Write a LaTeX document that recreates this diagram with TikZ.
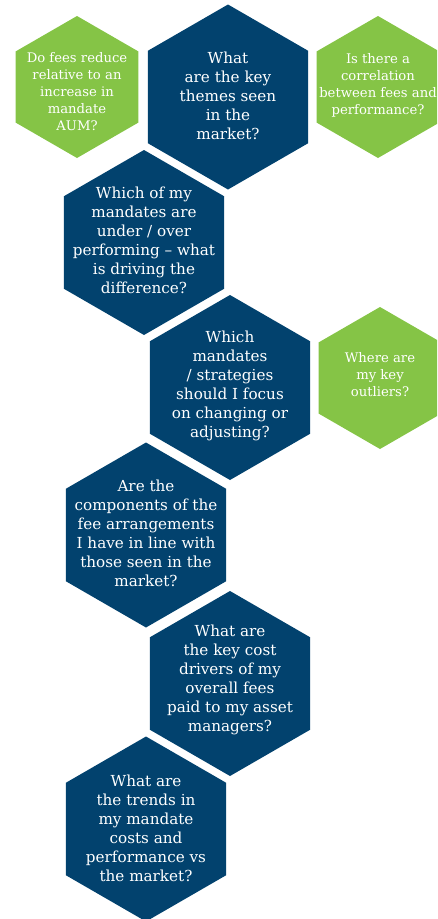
\documentclass[tikz,border=0pt]{standalone}
\usepackage{fontspec}
\setmainfont{DejaVu Serif}
\usetikzlibrary{shapes.geometric}
\definecolor{navy}{HTML}{02426E}
\definecolor{leaf}{HTML}{85C446}
\tikzset{
  hexbase/.style={regular polygon, regular polygon sides=6, shape border rotate=30, inner sep=0pt, outer sep=0pt, draw=none},
  navyhex/.style={hexbase, fill=navy, minimum size=185pt},
  greenhex/.style={hexbase, fill=leaf, minimum size=142pt},
  navytext/.style={text=white, align=center, inner sep=0pt, font=\fontsize{15.2}{19}\selectfont},
  greentext/.style={text=white, align=center, inner sep=0pt, font=\fontsize{13.2}{17}\selectfont}
}
\begin{document}
\begin{tikzpicture}[x=1pt,y=-1pt]
\useasboundingbox (0,0) rectangle (437,919);
\begin{scope}
\clip (0,0) rectangle (437,919);
\node[greenhex] (g1) at (77,87) {};
\node[navyhex] (h1) at (228,97) {};
\node[greenhex] (g2) at (378,87) {};
\node[navyhex] (h2) at (144,242.5) {};
\node[navyhex] (h3) at (230,387.5) {};
\node[greenhex] (g3) at (380,378) {};
\node[navyhex] (h4) at (146,535) {};
\node[navyhex] (h5) at (230,683.5) {};
\node[navyhex] (h6) at (146,829) {};
\end{scope}
\node[greentext] (tg1) at (77,92) {Do fees reduce\\relative to an\\increase in\\mandate\\AUM?};
\node[navytext] (th1) at (228,96) {What\\are the key\\themes seen\\in the\\market?};
\node[greentext] (tg2) at (378,85) {Is there a\\correlation\\between fees and\\performance?};
\node[navytext] (th2) at (144,240.5) {Which of my\\mandates are\\under / over\\performing -- what\\is driving the\\difference?};
\node[navytext] (th3) at (230,385.5) {Which\\mandates\\/ strategies\\should I focus\\on changing or\\adjusting?};
\node[greentext] (tg3) at (380,375) {Where are\\my key\\outliers?};
\node[navytext] (th4) at (146,533.5) {Are the\\components of the\\fee arrangements\\I have in line with\\those seen in the\\market?};
\node[navytext] (th5) at (230,679.5) {What are\\the key cost\\drivers of my\\overall fees\\paid to my asset\\managers?};
\node[navytext] (th6) at (146,828) {What are\\the trends in\\my mandate\\costs and\\performance vs\\the market?};
\end{tikzpicture}
\end{document}
